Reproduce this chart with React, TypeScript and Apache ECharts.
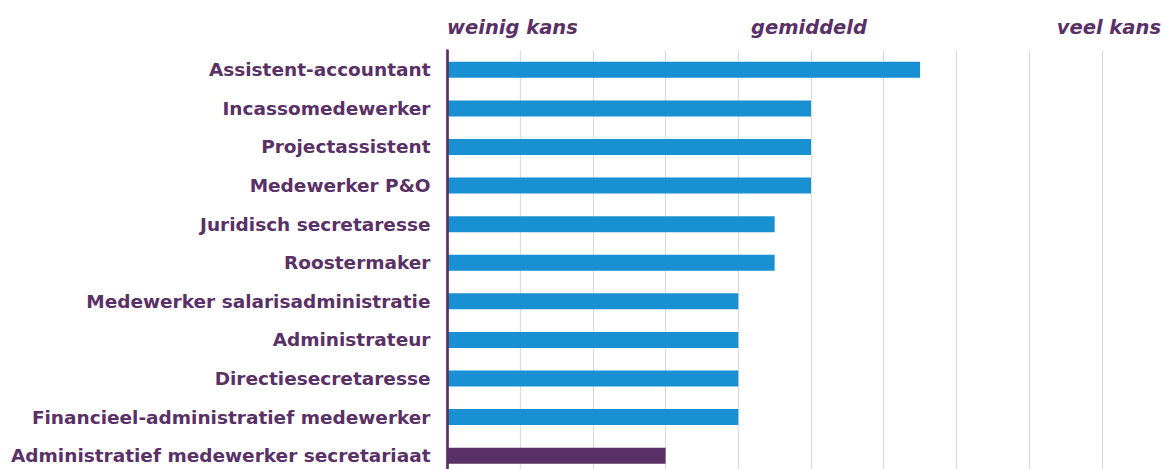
import React, { useEffect, useRef } from "react";
import * as echarts from "echarts";

const categories = [
  "Assistent-accountant",
  "Incassomedewerker",
  "Projectassistent",
  "Medewerker P&O",
  "Juridisch secretaresse",
  "Roostermaker",
  "Medewerker salarisadministratie",
  "Administrateur",
  "Directiesecretaresse",
  "Financieel-administratief medewerker",
  "Administratief medewerker secretariaat",
];
const values = [6.5, 5, 5, 5, 4.5, 4.5, 4, 4, 4, 4, 3];
const highlighted = "Administratief medewerker secretariaat";
const scaleLabels = ["weinig kans", "gemiddeld", "veel kans"];

const BLUE = "#1890D1";
const PURPLE = "#5A3166";
const FONT = "'DejaVu Sans', sans-serif";

export default function App() {
  const ref = useRef<HTMLDivElement>(null);
  useEffect(() => {
    if (!ref.current) return;
    const chart = echarts.init(ref.current, undefined, { renderer: "svg" });
    chart.setOption({
      animation: false,
      grid: {
        left: 447.5,
        top: 50.5,
        width: 727,
        height: 424.5,
        containLabel: false,
        outerBoundsMode: "none",
      },
      xAxis: {
        type: "value",
        min: 0,
        max: 10,
        interval: 1,
        axisLine: { show: false },
        axisTick: { show: false },
        axisLabel: { show: false },
        splitLine: { show: true, lineStyle: { color: "#dddddd", width: 1.3 } },
      },
      yAxis: {
        type: "category",
        data: categories,
        inverse: true,
        axisLine: { show: true, lineStyle: { color: PURPLE, width: 2.7 } },
        axisTick: { show: false },
        axisLabel: {
          margin: 17,
          color: PURPLE,
          fontFamily: FONT,
          fontWeight: "bold",
          fontSize: 18.5,
        },
        splitLine: { show: false },
        z: 5,
      },
      series: [
        {
          type: "bar",
          barWidth: 16,
          data: values.map((v, i) => ({
            value: v,
            itemStyle: { color: categories[i] === highlighted ? PURPLE : BLUE },
          })),
        },
      ],
      graphic: [
        {
          type: "text",
          x: 447,
          y: 17,
          style: {
            text: scaleLabels[0],
            fill: PURPLE,
            font: `italic bold 19.5px ${FONT}`,
            align: "left",
            verticalAlign: "top",
          },
        },
        {
          type: "text",
          x: 809,
          y: 17,
          style: {
            text: scaleLabels[1],
            fill: PURPLE,
            font: `italic bold 19.5px ${FONT}`,
            align: "center",
            verticalAlign: "top",
          },
        },
        {
          type: "text",
          x: 1161,
          y: 17,
          style: {
            text: scaleLabels[2],
            fill: PURPLE,
            font: `italic bold 19.5px ${FONT}`,
            align: "right",
            verticalAlign: "top",
          },
        },
      ],
    });
    return () => chart.dispose();
  }, []);
  return (
    <div
      ref={ref}
      style={{ position: "fixed", left: 0, top: 0, width: 1164, height: 469, background: "#fff" }}
    />
  );
}
